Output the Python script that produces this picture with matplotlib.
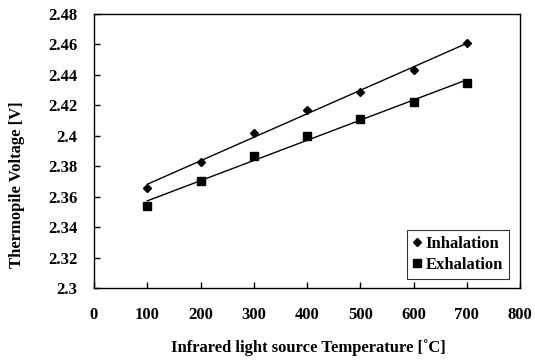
import numpy as np
import matplotlib
matplotlib.use("Agg")
import matplotlib.pyplot as plt

temperature = [100, 200, 300, 400, 500, 600, 700]
inhalation = [2.366, 2.383, 2.402, 2.417, 2.429, 2.443, 2.461]
exhalation = [2.354, 2.370, 2.387, 2.400, 2.411, 2.422, 2.435]
x_ticks = [0, 100, 200, 300, 400, 500, 600, 700, 800]
y_ticks = [2.3, 2.32, 2.34, 2.36, 2.38, 2.4, 2.42, 2.44, 2.46, 2.48]
y_tick_labels = ["2.3", "2.32", "2.34", "2.36", "2.38", "2.4", "2.42", "2.44", "2.46", "2.48"]

plt.rcParams['font.family'] = ['Liberation Serif', 'DejaVu Serif']
plt.rcParams['font.weight'] = 'bold'

W, H = 535, 361
fig = plt.figure(figsize=(W/100, H/100), dpi=100)
ax = fig.add_axes([94/W, 1-288/H, (520-94)/W, (288-14)/H])

t = np.array(temperature)
for vals, marker, ms, lab in [(inhalation, 'D', 4.5, 'Inhalation'), (exhalation, 's', 5.5, 'Exhalation')]:
    ax.plot(t, vals, linestyle='none', marker=marker, color='black', markersize=ms, label=lab)
    k, b = np.polyfit(t, vals, 1)
    ax.plot(t, k * t + b, color='black', linewidth=1.0)

fs = 12
ax.set_xlim(0, 800)
ax.set_ylim(2.3, 2.48)
ax.set_xticks(x_ticks)
ax.set_xticklabels([str(v) for v in x_ticks], fontsize=fs, fontweight='bold')
ax.set_yticks(y_ticks)
ax.set_yticklabels(y_tick_labels, fontsize=fs, fontweight='bold')
ax.tick_params(axis='y', direction='in', length=4, width=1, pad=12)
ax.tick_params(axis='x', direction='in', length=4, width=1, pad=14)
for s in ax.spines.values():
    s.set_linewidth(1.0)

fig.text(308/W, 1-348/H, "Infrared light source Temperature [˚C]", fontsize=fs, fontweight='bold',
         ha='center', va='center')
fig.text(17/W, 1-185/H, "Thermopile Voltage [V]", fontsize=fs, fontweight='bold',
         ha='center', va='center', rotation=90)

leg = ax.legend(loc='lower right', bbox_to_anchor=(509/W, 1-279/H), bbox_transform=fig.transFigure,
                frameon=True, fancybox=False, edgecolor='black', handlelength=0.5, handletextpad=0.3,
                borderpad=0.35, labelspacing=0.3, borderaxespad=0,
                prop={'weight': 'bold', 'size': fs})
leg.get_frame().set_linewidth(0.8)

fig.savefig("out.png", dpi=100)
